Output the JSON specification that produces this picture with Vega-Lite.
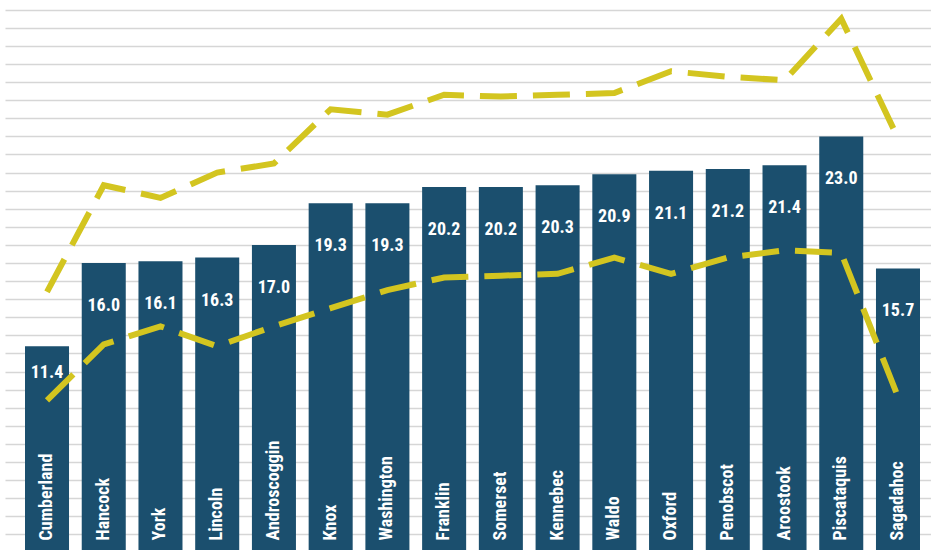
{
  "$schema": "https://vega.github.io/schema/vega-lite/v6.json",
  "width": 926,
  "height": 550,
  "padding": {"left": 5, "top": 0, "right": 0, "bottom": 0},
  "autosize": {"type": "none"},
  "background": "white",
  "config": {"view": {"stroke": null}},
  "data": {
    "values": [
      {"county": "Cumberland", "rate": 11.4, "upper": 14.4, "lower": 8.4},
      {"county": "Hancock", "rate": 16.0, "upper": 20.3, "lower": 11.5},
      {"county": "York", "rate": 16.1, "upper": 19.6, "lower": 12.5},
      {"county": "Lincoln", "rate": 16.3, "upper": 21.0, "lower": 11.4},
      {"county": "Androscoggin", "rate": 17.0, "upper": 21.5, "lower": 12.5},
      {"county": "Knox", "rate": 19.3, "upper": 24.5, "lower": 13.5},
      {"county": "Washington", "rate": 19.3, "upper": 24.2, "lower": 14.5},
      {"county": "Franklin", "rate": 20.2, "upper": 25.3, "lower": 15.2},
      {"county": "Somerset", "rate": 20.2, "upper": 25.2, "lower": 15.3},
      {"county": "Kennebec", "rate": 20.3, "upper": 25.3, "lower": 15.4},
      {"county": "Waldo", "rate": 20.9, "upper": 25.4, "lower": 16.3},
      {"county": "Oxford", "rate": 21.1, "upper": 26.6, "lower": 15.4},
      {"county": "Penobscot", "rate": 21.2, "upper": 26.3, "lower": 16.3},
      {"county": "Aroostook", "rate": 21.4, "upper": 26.1, "lower": 16.7},
      {"county": "Piscataquis", "rate": 23.0, "upper": 29.5, "lower": 16.55},
      {"county": "Sagadahoc", "rate": 15.7, "upper": 22.9, "lower": 8.6}
    ]
  },
  "encoding": {
    "x": {
      "field": "county",
      "type": "nominal",
      "sort": null,
      "scale": {"range": [0, 935], "paddingInner": 0.224, "paddingOuter": 0.3526},
      "axis": null
    }
  },
  "layer": [
    {
      "mark": {"type": "bar", "color": "#1b4f6e"},
      "encoding": {
        "y": {
          "field": "rate",
          "type": "quantitative",
          "title": null,
          "scale": {"domain": [0, 30.54], "range": [552.4, 0], "nice": false, "zero": true},
          "axis": {
            "values": [1,2,3,4,5,6,7,8,9,10,11,12,13,14,15,16,17,18,19,20,21,22,23,24,25,26,27,28,29,30],
            "tickCount": 30,
            "grid": true,
            "gridColor": "#d6d6d6",
            "gridWidth": 1.3,
            "domain": false,
            "ticks": false,
            "labels": false,
            "title": null
          }
        }
      }
    },
    {
      "mark": {"type": "line", "color": "#d3c520", "strokeWidth": 6, "strokeDash": [37, 16], "strokeCap": "butt"},
      "encoding": {"y": {"field": "upper", "type": "quantitative", "title": null,
        "axis": {
            "values": [1,2,3,4,5,6,7,8,9,10,11,12,13,14,15,16,17,18,19,20,21,22,23,24,25,26,27,28,29,30],
            "tickCount": 30,
            "grid": true,
            "gridColor": "#d6d6d6",
            "gridWidth": 1.3,
            "domain": false,
            "ticks": false,
            "labels": false,
            "title": null
          }}}
    },
    {
      "mark": {"type": "line", "color": "#d3c520", "strokeWidth": 6, "strokeDash": [37, 16], "strokeCap": "butt"},
      "encoding": {"y": {"field": "lower", "type": "quantitative", "title": null,
        "axis": {
            "values": [1,2,3,4,5,6,7,8,9,10,11,12,13,14,15,16,17,18,19,20,21,22,23,24,25,26,27,28,29,30],
            "tickCount": 30,
            "grid": true,
            "gridColor": "#d6d6d6",
            "gridWidth": 1.3,
            "domain": false,
            "ticks": false,
            "labels": false,
            "title": null
          }}}
    },
    {
      "transform": [{"filter": "datum.rate >= 12"}],
      "mark": {"type": "text", "color": "white", "fontSize": 18, "fontWeight": "bold", "font": "'Roboto Condensed', 'Liberation Sans Narrow', 'Open Sans Condensed', 'DejaVu Sans Condensed', Roboto, sans-serif", "baseline": "middle", "align": "center", "dy": 43},
      "encoding": {
        "y": {"field": "rate", "type": "quantitative", "title": null,
          "axis": {
            "values": [1,2,3,4,5,6,7,8,9,10,11,12,13,14,15,16,17,18,19,20,21,22,23,24,25,26,27,28,29,30],
            "tickCount": 30,
            "grid": true,
            "gridColor": "#d6d6d6",
            "gridWidth": 1.3,
            "domain": false,
            "ticks": false,
            "labels": false,
            "title": null
          }},
        "text": {"field": "rate", "type": "quantitative", "format": ".1f"}
      }
    },
    {
      "transform": [{"filter": "datum.rate < 12"}],
      "mark": {"type": "text", "color": "white", "fontSize": 18, "fontWeight": "bold", "font": "'Roboto Condensed', 'Liberation Sans Narrow', 'Open Sans Condensed', 'DejaVu Sans Condensed', Roboto, sans-serif", "baseline": "middle", "align": "center", "dy": 27},
      "encoding": {
        "y": {"field": "rate", "type": "quantitative", "title": null,
          "axis": {
            "values": [1,2,3,4,5,6,7,8,9,10,11,12,13,14,15,16,17,18,19,20,21,22,23,24,25,26,27,28,29,30],
            "tickCount": 30,
            "grid": true,
            "gridColor": "#d6d6d6",
            "gridWidth": 1.3,
            "domain": false,
            "ticks": false,
            "labels": false,
            "title": null
          }},
        "text": {"field": "rate", "type": "quantitative", "format": ".1f"}
      }
    },
    {
      "mark": {"type": "text", "color": "white", "fontSize": 18, "fontWeight": "bold", "font": "'Roboto Condensed', 'Liberation Sans Narrow', 'Open Sans Condensed', 'DejaVu Sans Condensed', Roboto, sans-serif", "baseline": "middle", "align": "left", "angle": 270, "dx": 12},
      "encoding": {
        "y": {"datum": 0, "type": "quantitative", "title": null,
          "axis": {
            "values": [1,2,3,4,5,6,7,8,9,10,11,12,13,14,15,16,17,18,19,20,21,22,23,24,25,26,27,28,29,30],
            "tickCount": 30,
            "grid": true,
            "gridColor": "#d6d6d6",
            "gridWidth": 1.3,
            "domain": false,
            "ticks": false,
            "labels": false,
            "title": null
          }},
        "text": {"field": "county", "type": "nominal"}
      }
    }
  ]
}
